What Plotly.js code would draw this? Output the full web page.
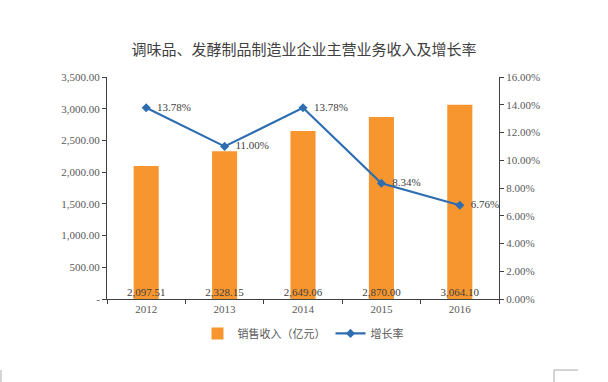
<!DOCTYPE html>
<html>
<head>
<meta charset="utf-8">
<script src="https://cdn.plot.ly/plotly-3.0.1.min.js"></script>
<style>html,body{margin:0;padding:0;background:#fff;}#chart{width:608px;height:382px;}</style>
</head>
<body>
<div id="chart"></div>
<script>
var years = ['2012', '2013', '2014', '2015', '2016'];
var revenue = [2097.51, 2328.15, 2649.06, 2870.00, 3064.10];
var revenueLabels = ['2,097.51', '2,328.15', '2,649.06', '2,870.00', '3,064.10'];
var growth = [13.78, 11.00, 13.78, 8.34, 6.76];
var growthLabels = ['13.78%', '11.00%', '13.78%', '8.34%', '6.76%'];
var leftTickVals = [0, 500, 1000, 1500, 2000, 2500, 3000, 3500];
var leftTickText = ['-', '500.00', '1,000.00', '1,500.00', '2,000.00', '2,500.00', '3,000.00', '3,500.00'];
var rightTickVals = [0, 2, 4, 6, 8, 10, 12, 14, 16];
var rightTickText = ['0.00%', '2.00%', '4.00%', '6.00%', '8.00%', '10.00%', '12.00%', '14.00%', '16.00%'];

var serif = 'Liberation Serif, Times New Roman, serif';
var cjk = 'Noto Sans CJK SC, sans-serif';

var traces = [
  {
    type: 'bar', x: years, y: revenue, name: '销售收入（亿元）',
    marker: {color: '#F7962E'}, width: 0.32, hoverinfo: 'skip'
  },
  {
    type: 'scatter', mode: 'lines+markers+text', x: years, y: growth, yaxis: 'y2', name: '增长率',
    line: {color: '#2E6DB0', width: 2.2},
    marker: {symbol: 'diamond', size: 7, color: '#2E6DB0'},
    text: growthLabels.map(function (s) { return '\u2002' + s; }), textposition: 'middle right',
    textfont: {family: serif, size: 11, color: '#404040'},
    cliponaxis: false, hoverinfo: 'skip'
  },
  {
    type: 'scatter', mode: 'text', x: years, y: revenue.map(function () { return 0; }),
    text: revenueLabels, textposition: 'top center', showlegend: false,
    textfont: {family: serif, size: 11, color: '#404040'},
    cliponaxis: false, hoverinfo: 'skip'
  }
];

var layout = {
  width: 608, height: 382,
  margin: {l: 107, r: 109, t: 77, b: 83},
  paper_bgcolor: '#fff', plot_bgcolor: '#fff',
  showlegend: true,
  title: {text: '调味品、发酵制品制造业企业主营业务收入及增长率', x: 0.5, xanchor: 'center', y: 0.87, yanchor: 'middle',
    font: {family: cjk, size: 15, color: '#404040'}},
  xaxis: {
    type: 'category', showline: true, linecolor: '#404040', linewidth: 1,
    ticks: 'outside', tickson: 'boundaries', ticklen: 4, tickcolor: '#404040',
    tickfont: {family: serif, size: 11, color: '#595959'}, showgrid: false, zeroline: false
  },
  yaxis: {
    range: [0, 3500], tickvals: leftTickVals, ticktext: leftTickText,
    showline: true, linecolor: '#404040', linewidth: 1, ticks: 'outside', ticklen: 4, tickcolor: '#404040',
    tickfont: {family: serif, size: 11, color: '#595959'}, showgrid: false, zeroline: false
  },
  yaxis2: {
    overlaying: 'y', side: 'right', range: [0, 16], tickvals: rightTickVals, ticktext: rightTickText,
    showline: true, linecolor: '#404040', linewidth: 1, ticks: 'outside', ticklen: 4, tickcolor: '#404040',
    tickfont: {family: serif, size: 11, color: '#595959'}, showgrid: false, zeroline: false
  },
  legend: {orientation: 'h', x: 0.5, xanchor: 'center', y: -0.155, yanchor: 'middle',
    font: {family: cjk, size: 11, color: '#595959'}, itemwidth: 30, traceorder: 'normal'},
  shapes: [
    {type: 'line', xref: 'paper', yref: 'paper', x0: (1 - 107) / 392, x1: (1 - 107) / 392, y0: -(370 - 299) / 222, y1: -(382 - 299) / 222, line: {color: '#aaaaaa', width: 1}},
    {type: 'line', xref: 'paper', yref: 'paper', x0: (554 - 107) / 392, x1: (578 - 107) / 392, y0: -(370 - 299) / 222, y1: -(370 - 299) / 222, line: {color: '#aaaaaa', width: 1}},
    {type: 'line', xref: 'paper', yref: 'paper', x0: (554 - 107) / 392, x1: (554 - 107) / 392, y0: -(370 - 299) / 222, y1: -(382 - 299) / 222, line: {color: '#aaaaaa', width: 1}}
  ]
};

Plotly.newPlot('chart', traces, layout, {displayModeBar: false, staticPlot: true});
</script>
</body>
</html>
